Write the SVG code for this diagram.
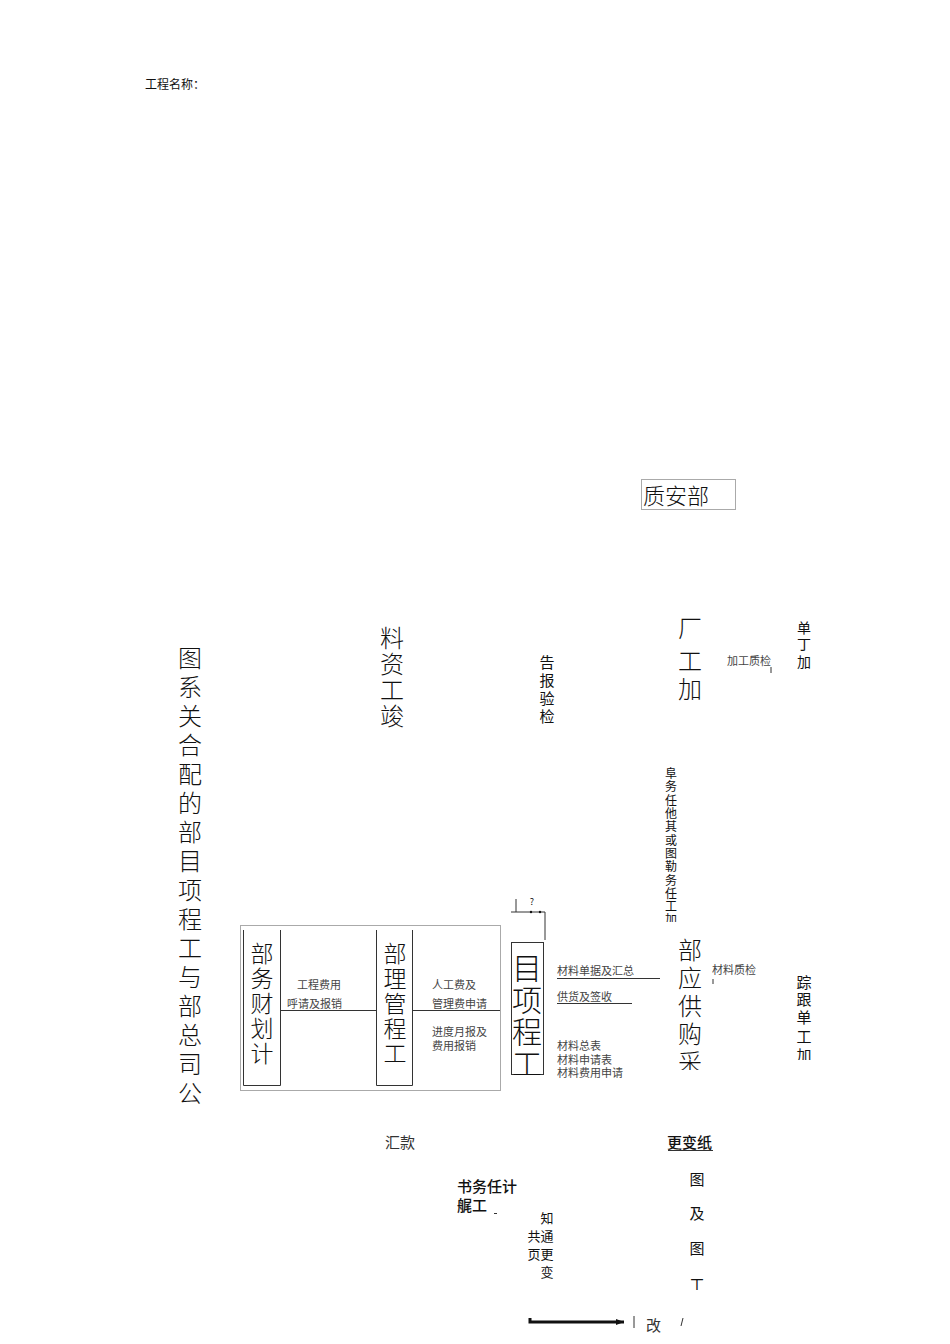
<svg xmlns="http://www.w3.org/2000/svg" width="950" height="1344" viewBox="0 0 950 1344">
<style>
text{font-family:"Noto Sans CJK SC","Liberation Serif",serif;fill:#111}
.v{text-anchor:middle}
.s11{font-size:11px;fill:#444}
.s15{font-size:15px}
.s24{font-size:24px;font-weight:300}
.b23{font-size:23px;font-weight:300}
.ln{stroke:#333;stroke-width:1;fill:none}
.gr{stroke:#aaa;stroke-width:1;fill:none}
</style>
<defs>
<clipPath id="c1"><rect x="500" y="940" width="60" height="135"/></clipPath>
<clipPath id="c2"><rect x="660" y="920" width="60" height="150"/></clipPath>
<clipPath id="c3"><rect x="780" y="960" width="60" height="100"/></clipPath>
<clipPath id="c4"><rect x="650" y="760" width="60" height="162"/></clipPath>
<clipPath id="c5"><rect x="640" y="1316" width="60" height="28"/></clipPath>
<clipPath id="c6"><rect x="680" y="1260" width="40" height="30"/></clipPath>
<marker id="ah" markerWidth="8" markerHeight="6" refX="8" refY="3" orient="auto" markerUnits="userSpaceOnUse"><path d="M0,0 L8,3 L0,6 Z" fill="#111"/></marker>
</defs>

<g id="header"><text x="145" y="89" style="font-size:12px">工程名称：</text></g>

<g id="zhianbu">
<rect x="641.5" y="479.5" width="94" height="30" class="gr" stroke="#888"/>
<text x="643" y="504" style="font-size:22px;font-weight:300">质安部</text>
</g>

<g id="title">
<text class="v s24"><tspan x="190" y="667">图</tspan><tspan x="190" y="696">系</tspan><tspan x="190" y="725">关</tspan><tspan x="190" y="754">合</tspan><tspan x="190" y="783">配</tspan><tspan x="190" y="812">的</tspan><tspan x="190" y="841">部</tspan><tspan x="190" y="870">目</tspan><tspan x="190" y="899">项</tspan><tspan x="190" y="928">程</tspan><tspan x="190" y="957">工</tspan><tspan x="190" y="986">与</tspan><tspan x="190" y="1015">部</tspan><tspan x="190" y="1044">总</tspan><tspan x="190" y="1073">司</tspan><tspan x="190" y="1102">公</tspan></text>
</g>

<g id="jungong">
<text class="v s24"><tspan x="392" y="647">料</tspan><tspan x="392" y="673">资</tspan><tspan x="392" y="699">工</tspan><tspan x="392" y="725">竣</tspan></text>
</g>

<g id="jianyan">
<text class="v s15"><tspan x="547" y="668">告</tspan><tspan x="547" y="686">报</tspan><tspan x="547" y="704">验</tspan><tspan x="547" y="722">检</tspan></text>
</g>

<g id="jiagongchang">
<text class="v s24"><tspan x="690" y="637">厂</tspan><tspan x="690" y="670">工</tspan><tspan x="690" y="698">加</tspan></text>
<text x="727" y="665" class="s11">加工质检</text>
<line x1="771" y1="667" x2="771" y2="673" class="ln"/>
</g>

<g id="jiagongdan1">
<text class="v" style="font-size:14px"><tspan x="804" y="633">单</tspan><tspan x="804" y="649">丁</tspan><tspan x="804" y="667">加</tspan></text>
</g>

<g id="renwu" clip-path="url(#c4)">
<text class="v" style="font-size:12px"><tspan x="671" y="778">阜</tspan><tspan x="671" y="791">务</tspan><tspan x="671" y="805">任</tspan><tspan x="671" y="818">他</tspan><tspan x="671" y="831">其</tspan><tspan x="671" y="845">或</tspan><tspan x="671" y="858">图</tspan><tspan x="671" y="871">勒</tspan><tspan x="671" y="885">务</tspan><tspan x="671" y="898">任</tspan><tspan x="671" y="911">工</tspan><tspan x="671" y="924">加</tspan></text>
</g>

<g id="bracket">
<path d="M516,899 V912 M511,912 H545 V940" class="ln"/>
<text x="532" y="905" class="v" style="font-size:9px">?</text>
<circle cx="531" cy="912" r="1.2" fill="#111"/><circle cx="540" cy="912" r="1.2" fill="#111"/>
</g>

<g id="xiangmubu">
<rect x="511.5" y="942.5" width="32" height="132" class="ln"/>
<text class="v" clip-path="url(#c1)" style="font-size:30px;font-weight:300"><tspan x="527" y="979">目</tspan><tspan x="527" y="1011">项</tspan><tspan x="527" y="1043">程</tspan><tspan x="527" y="1075">工</tspan></text>
</g>

<g id="cailiao">
<text x="557" y="975" class="s11">材料单据及汇总</text>
<text x="557" y="1001" class="s11">供货及签收</text>
<text x="557" y="1050" class="s11">材料总表</text>
<text x="557" y="1063.5" class="s11">材料申请表</text>
<text x="557" y="1077" class="s11">材料费用申请</text>
</g>

<g id="caigou">
<text class="v s24" clip-path="url(#c2)"><tspan x="690" y="959">部</tspan><tspan x="690" y="987">应</tspan><tspan x="690" y="1015">供</tspan><tspan x="690" y="1043">购</tspan><tspan x="690" y="1071">采</tspan></text>
<text x="712" y="974" class="s11">材料质检</text>
<line x1="713" y1="979" x2="713" y2="984" class="ln"/>
</g>

<g id="jiagongdan2">
<text class="v s15" clip-path="url(#c3)"><tspan x="804" y="988">踪</tspan><tspan x="804" y="1005">跟</tspan><tspan x="804" y="1023">单</tspan><tspan x="804" y="1042">工</tspan><tspan x="804" y="1061">加</tspan></text>
</g>

<g id="outerbox">
<rect x="240.5" y="925.5" width="260" height="165" class="gr" stroke="#bbb"/>
</g>

<g id="caiwubu">
<path d="M243.5,930 V1085.5 H280.5 V930" class="ln" stroke="#555"/>
<text class="v b23"><tspan x="262" y="962">部</tspan><tspan x="262" y="987">务</tspan><tspan x="262" y="1012">财</tspan><tspan x="262" y="1037">划</tspan><tspan x="262" y="1062">计</tspan></text>
</g>

<g id="gongchengbu">
<path d="M376.5,930 V1085.5 H412.5 V930" class="ln" stroke="#555"/>
<text class="v b23"><tspan x="395" y="962">部</tspan><tspan x="395" y="987">理</tspan><tspan x="395" y="1012">管</tspan><tspan x="395" y="1037">程</tspan><tspan x="395" y="1062">工</tspan></text>
</g>

<g id="connectors">
<line x1="280" y1="1010.5" x2="376" y2="1010.5" class="ln"/>
<line x1="413" y1="1010.5" x2="500" y2="1010.5" class="ln"/>
<line x1="557" y1="978.5" x2="660" y2="978.5" class="ln"/>
<line x1="557" y1="1003.5" x2="632" y2="1003.5" class="ln"/>
<line x1="668" y1="1150.5" x2="713" y2="1150.5" class="ln"/>
<path d="M530,1318 V1322 H624" stroke="#111" stroke-width="3" fill="none" marker-end="url(#ah)"/>
<line x1="634" y1="1316" x2="634" y2="1328" class="ln"/>
</g>

<g id="labels">
<text x="297" y="989" class="s11">工程费用</text>
<text x="287" y="1008" class="s11">呼请及报销</text>
<text x="432" y="989" class="s11">人工费及</text>
<text x="432" y="1008" class="s11">管理费申请</text>
<text x="432" y="1036" class="s11">进度月报及</text>
<text x="432" y="1050" class="s11">费用报销</text>
<text x="385" y="1148" class="s15" style="fill:#333">汇款</text>
<text x="667" y="1148" class="s15" style="font-weight:500">更变纸</text>
<text class="v s15"><tspan x="697" y="1185">图</tspan><tspan x="697" y="1219">及</tspan><tspan x="697" y="1254">图</tspan></text>
<text x="697" y="1290" class="v s15" clip-path="url(#c6)">工</text>
<text x="457" y="1192" class="s15" style="font-weight:500">书务任计</text>
<text x="457" y="1211" class="s15" style="font-weight:500">艉工</text>
<line x1="494" y1="1213.5" x2="497" y2="1213.5" class="ln"/>
<text class="v" style="font-size:13px"><tspan x="547" y="1223">知</tspan><tspan x="547" y="1241">通</tspan><tspan x="547" y="1259">更</tspan><tspan x="547" y="1277">变</tspan></text>
<text class="v" style="font-size:13px"><tspan x="534" y="1241">共</tspan><tspan x="534" y="1259">页</tspan></text>
<text x="646" y="1331" class="s15" clip-path="url(#c5)" style="fill:#333">改</text>
<line x1="683" y1="1318" x2="681" y2="1326" class="ln"/>
</g>
</svg>
